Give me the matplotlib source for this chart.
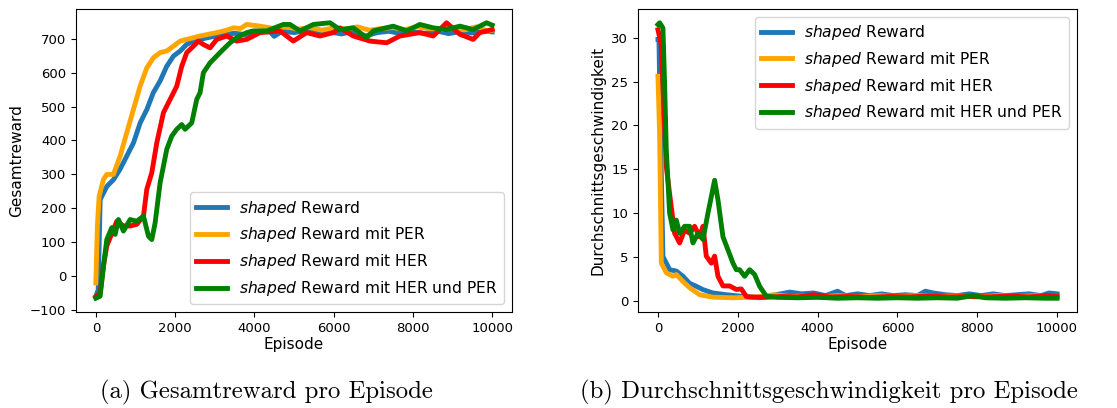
import matplotlib.pyplot as plt

labels = [r'$\it{shaped}$ Reward', r'$\it{shaped}$ Reward mit PER',
          r'$\it{shaped}$ Reward mit HER', r'$\it{shaped}$ Reward mit HER und PER']
colors = ['#1f77b4', 'orange', 'red', 'green']

# (a) Gesamtreward
rew_blue_ep = [0, 60, 110, 280, 450, 610, 780, 950, 1120, 1290, 1450, 1620, 1790, 1960, 2130, 2290, 2460, 2630,
               2900, 3200, 3500, 3800, 4100, 4400, 4500, 4700, 5000, 5300, 5600, 5900, 6200, 6500, 6800, 7100,
               7400, 7700, 8000, 8300, 8600, 8900, 9200, 9500, 9800, 10000]
rew_blue = [-60, -40, 226, 265, 285, 315, 354, 393, 452, 492, 541, 575, 619, 649, 664, 683, 693, 698,
            705, 712, 716, 712, 722, 720, 707, 722, 718, 724, 716, 720, 714, 722, 708, 718,
            722, 715, 720, 716, 723, 715, 721, 717, 722, 720]
rew_orange_ep = [0, 40, 84, 193, 277, 445, 613, 781, 950, 1118, 1286, 1454, 1622, 1790, 1958, 2126, 2294, 2630,
                 3050, 3300, 3470, 3650, 3807, 4143, 4500, 4800, 5100, 5400, 5700, 6000, 6300, 6600, 6900,
                 7200, 7500, 7800, 8100, 8400, 8700, 9000, 9300, 9600, 9900, 10000]
rew_orange = [-20, 150, 236, 285, 300, 300, 354, 423, 492, 560, 614, 644, 659, 664, 678, 693, 698, 708,
              718, 725, 732, 730, 742, 737, 730, 735, 728, 733, 725, 732, 728, 735, 725,
              730, 733, 727, 735, 730, 728, 733, 726, 735, 722, 725]
rew_red_ep = [0, 109, 193, 277, 445, 529, 697, 866, 1034, 1202, 1286, 1412, 1538, 1706, 1874, 2042, 2168, 2294,
              2462, 2588, 2714, 2882, 3050, 3303, 3555, 3807, 4143, 4647, 4983, 5319, 5655, 5992, 6160, 6496,
              6916, 7336, 7672, 8176, 8513, 8849, 9185, 9521, 9689, 10000]
rew_red = [-60, -49, 30, 89, 138, 162, 148, 148, 153, 177, 256, 305, 393, 482, 521, 560, 619, 659,
           678, 693, 683, 673, 698, 708, 693, 698, 718, 723, 693, 718, 708, 718, 732, 708,
           693, 688, 708, 718, 708, 747, 713, 698, 718, 727]
rew_green_ep = [0, 109, 193, 277, 403, 487, 571, 697, 866, 1034, 1202, 1328, 1412, 1496, 1622, 1790, 1916, 2042,
                2168, 2252, 2420, 2546, 2630, 2714, 2882, 3050, 3218, 3387, 3555, 3807, 3975, 4311, 4731, 4899,
                5151, 5487, 5908, 6160, 6496, 6832, 7000, 7504, 7840, 8176, 8513, 8849, 9185, 9521, 9857, 10000]
rew_green = [-65, -59, 30, 108, 143, 123, 167, 133, 167, 162, 177, 118, 108, 157, 275, 374, 413, 433,
             447, 433, 452, 521, 541, 600, 629, 649, 669, 688, 703, 718, 723, 723, 742, 742,
             723, 742, 747, 727, 732, 703, 723, 737, 723, 742, 732, 727, 737, 727, 747, 740]

# (b) Durchschnittsgeschwindigkeit
spd_blue_ep = [0, 25, 60, 125, 209, 292, 460, 627, 794, 961, 1128, 1378, 1713, 2130, 2548, 2966, 3300, 3600,
               3900, 4200, 4500, 4700, 5000, 5300, 5600, 5900, 6200, 6500, 6700, 6900, 7200, 7500, 7800, 8100,
               8400, 8700, 9000, 9300, 9600, 9800, 10000]
spd_blue = [29.8, 29.8, 20.0, 5.06, 4.3, 3.55, 3.4, 2.8, 2.0, 1.66, 1.28, 0.9, 0.7, 0.5, 0.35, 0.7, 1.0, 0.8,
            0.9, 0.6, 1.1, 0.6, 0.8, 0.6, 0.8, 0.6, 0.7, 0.6, 1.1, 0.9, 0.7, 0.6, 0.8, 0.6,
            0.8, 0.6, 0.7, 0.8, 0.6, 0.9, 0.8]
spd_orange_ep = [0, 42, 84, 209, 376, 460, 627, 794, 1044, 1378, 1880, 2214, 2500, 2900, 3300, 3700, 4100, 4500,
                 5000, 5500, 6000, 6500, 7000, 7500, 8000, 8500, 9000, 9500, 10000]
spd_orange = [25.6, 19.0, 4.3, 3.2, 2.8, 3.0, 2.2, 1.5, 0.7, 0.42, 0.35, 0.4, 0.45, 0.7, 0.5, 0.55, 0.45, 0.6,
              0.45, 0.6, 0.5, 0.6, 0.5, 0.55, 0.45, 0.6, 0.5, 0.6, 0.45]
spd_red_ep = [0, 84, 142, 209, 292, 418, 543, 668, 794, 919, 1044, 1128, 1211, 1337, 1420, 1504, 1629, 1796,
              1963, 2088, 2214, 2300, 2700, 3100, 3500, 3900, 4300, 4800, 5300, 5800, 6300, 6800, 7300,
              7800, 8300, 8800, 9300, 9700, 10000]
spd_red = [30.9, 29.2, 22.8, 15.3, 12.2, 7.7, 6.6, 8.1, 7.7, 8.5, 7.3, 8.5, 5.1, 4.3, 5.1, 2.8, 1.7, 1.7,
           1.3, 1.36, 0.5, 0.45, 0.4, 0.5, 0.45, 0.7, 0.45, 0.5, 0.4, 0.5, 0.45, 0.55, 0.45,
           0.5, 0.45, 0.55, 0.45, 0.6, 0.5]
spd_green_ep = [0, 42, 125, 167, 209, 292, 376, 460, 543, 668, 794, 877, 1003, 1128, 1253, 1420, 1504, 1629,
                1755, 1880, 1963, 2047, 2172, 2297, 2423, 2548, 2715, 3000, 3500, 4000, 4500, 5000, 5500,
                6000, 6500, 7000, 7500, 7900, 8200, 8700, 9200, 9700, 10000]
spd_green = [31.5, 31.7, 31.1, 24.7, 17.2, 10.0, 8.1, 9.2, 7.7, 8.5, 8.5, 6.6, 7.7, 7.0, 10.0, 13.75, 11.5, 7.3,
             5.8, 4.3, 3.55, 3.55, 2.8, 3.55, 3.0, 1.66, 0.53, 0.4, 0.35, 0.4, 0.3, 0.35, 0.3,
             0.35, 0.3, 0.35, 0.3, 0.6, 0.35, 0.3, 0.35, 0.3, 0.3]

fig = plt.figure(figsize=(11.17, 4.08), dpi=100)
ax1 = fig.add_axes([76 / 1117, 96 / 408, 436 / 1117, 303 / 408])
ax2 = fig.add_axes([638 / 1117, 96 / 408, 439 / 1117, 303 / 408])

for ep, val, c, lab in zip([rew_blue_ep, rew_orange_ep, rew_red_ep, rew_green_ep],
                           [rew_blue, rew_orange, rew_red, rew_green], colors, labels):
    ax1.plot(ep, val, color=c, lw=3.5, label=lab)
for ep, val, c, lab in zip([spd_blue_ep, spd_orange_ep, spd_red_ep, spd_green_ep],
                           [spd_blue, spd_orange, spd_red, spd_green], colors, labels):
    ax2.plot(ep, val, color=c, lw=3.5, label=lab)

ax1.set_yticks(range(-100, 701, 100))
ax2.set_yticks(range(0, 31, 5))
for ax, yl in [(ax1, 'Gesamtreward'), (ax2, 'Durchschnittsgeschwindigkeit')]:
    ax.set_xticks(range(0, 10001, 2000))
    ax.set_xlabel('Episode', fontsize=11, labelpad=2)
    ax.set_ylabel(yl, fontsize=11)
    ax.tick_params(labelsize=9.5)
ax1.legend(loc='lower right', fontsize=11.2, handlelength=2.0)
ax2.legend(loc='upper right', fontsize=11.2, handlelength=2.0)

fig.text(266 / 1117, 1 - 392 / 408, '(a) Gesamtreward pro Episode', family='cmr10',
         fontsize=17.8, ha='center', va='center')
fig.text(829 / 1117, 1 - 392 / 408, '(b) Durchschnittsgeschwindigkeit pro Episode', family='cmr10',
         fontsize=17.8, ha='center', va='center')

fig.savefig('out.png')
